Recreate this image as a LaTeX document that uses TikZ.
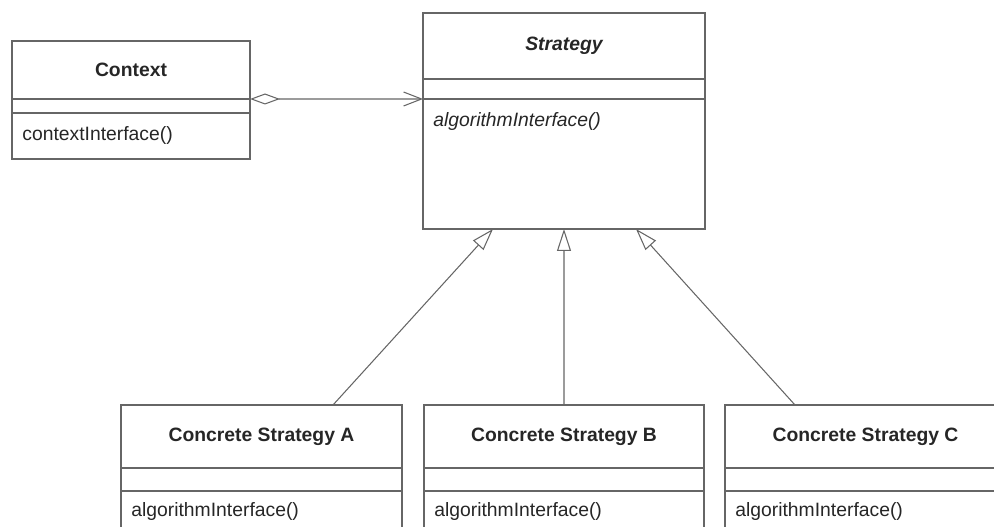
\documentclass[tikz,border=0pt]{standalone}
\usepackage{fontspec}
\setsansfont{Liberation Sans}
\usetikzlibrary{arrows.meta, positioning, calc}
\newcommand{\umlsize}{\fontsize{11}{13}\selectfont}

\begin{document}
\begin{tikzpicture}[>=Latex, font=\sffamily\umlsize,
    classbox/.style={draw=black!60, line width=0.6pt, anchor=north west, inner sep=0pt, outer sep=0pt},
    classline/.style={draw=black!60, line width=0.6pt},
    title/.style={font=\sffamily\bfseries\umlsize, text=black!85},
    method/.style={anchor=west, inner sep=0pt, text=black!85},
    inherit/.style={draw=black!60, line width=0.6pt, -{Triangle[open, length=0.44cm, width=0.28cm]}},
    assoc/.style={draw=black!60, line width=0.6pt, {Diamond[open, length=0.6cm, width=0.22cm]}-{Straight Barb[length=0.36cm, width=0.28cm]}}]
        % Frame
        \useasboundingbox (0,0) rectangle (19.88,10.54);
        \clip (0,0) rectangle (19.88,10.54);

        % Context
        \node[classbox, minimum width=4.76cm, minimum height=2.36cm] (context) at (0.24,9.72) {};
        \draw[classline] (0.24,8.56) -- (5.00,8.56);
        \draw[classline] (0.24,8.28) -- (5.00,8.28);
        \node[title] (contextname) at (2.62,9.14) {Context};
        \node[method] (contextop) at (0.44,7.82) {contextInterface()};

        % Strategy
        \node[classbox, minimum width=5.64cm, minimum height=4.32cm] (strategy) at (8.46,10.28) {};
        \draw[classline] (8.46,8.96) -- (14.10,8.96);
        \draw[classline] (8.46,8.56) -- (14.10,8.56);
        \node[title, font=\sffamily\bfseries\itshape\umlsize] (strategyname) at (11.28,9.62) {Strategy};
        \node[method, font=\sffamily\itshape\umlsize] (strategyop) at (8.66,8.10) {algorithmInterface()};

        % Concrete Strategy A
        \node[classbox, minimum width=5.62cm, minimum height=2.84cm] (csa) at (2.42,2.44) {};
        \draw[classline] (2.42,1.18) -- (8.04,1.18);
        \draw[classline] (2.42,0.72) -- (8.04,0.72);
        \node[title] (csaname) at (5.23,1.80) {Concrete Strategy A};
        \node[method] (csaop) at (2.62,0.30) {algorithmInterface()};

        % Concrete Strategy B
        \node[classbox, minimum width=5.60cm, minimum height=2.84cm] (csb) at (8.48,2.44) {};
        \draw[classline] (8.48,1.18) -- (14.08,1.18);
        \draw[classline] (8.48,0.72) -- (14.08,0.72);
        \node[title] (csbname) at (11.28,1.80) {Concrete Strategy B};
        \node[method] (csbop) at (8.68,0.30) {algorithmInterface()};

        % Concrete Strategy C
        \node[classbox, minimum width=5.62cm, minimum height=2.84cm] (csc) at (14.50,2.44) {};
        \draw[classline] (14.50,1.18) -- (20.12,1.18);
        \draw[classline] (14.50,0.72) -- (20.12,0.72);
        \node[title] (cscname) at (17.31,1.80) {Concrete Strategy C};
        \node[method] (cscop) at (14.70,0.30) {algorithmInterface()};

        % Relations
        \draw[assoc] ([yshift=-1.16cm]context.north east) -- ([yshift=-1.72cm]strategy.north west);
        \draw[inherit] ([xshift=1.43cm]csa.north) -- ([xshift=-1.42cm]strategy.south);
        \draw[inherit] (csb.north) -- (strategy.south);
        \draw[inherit] ([xshift=-1.41cm]csc.north) -- ([xshift=1.44cm]strategy.south);
\end{tikzpicture}
\end{document}
